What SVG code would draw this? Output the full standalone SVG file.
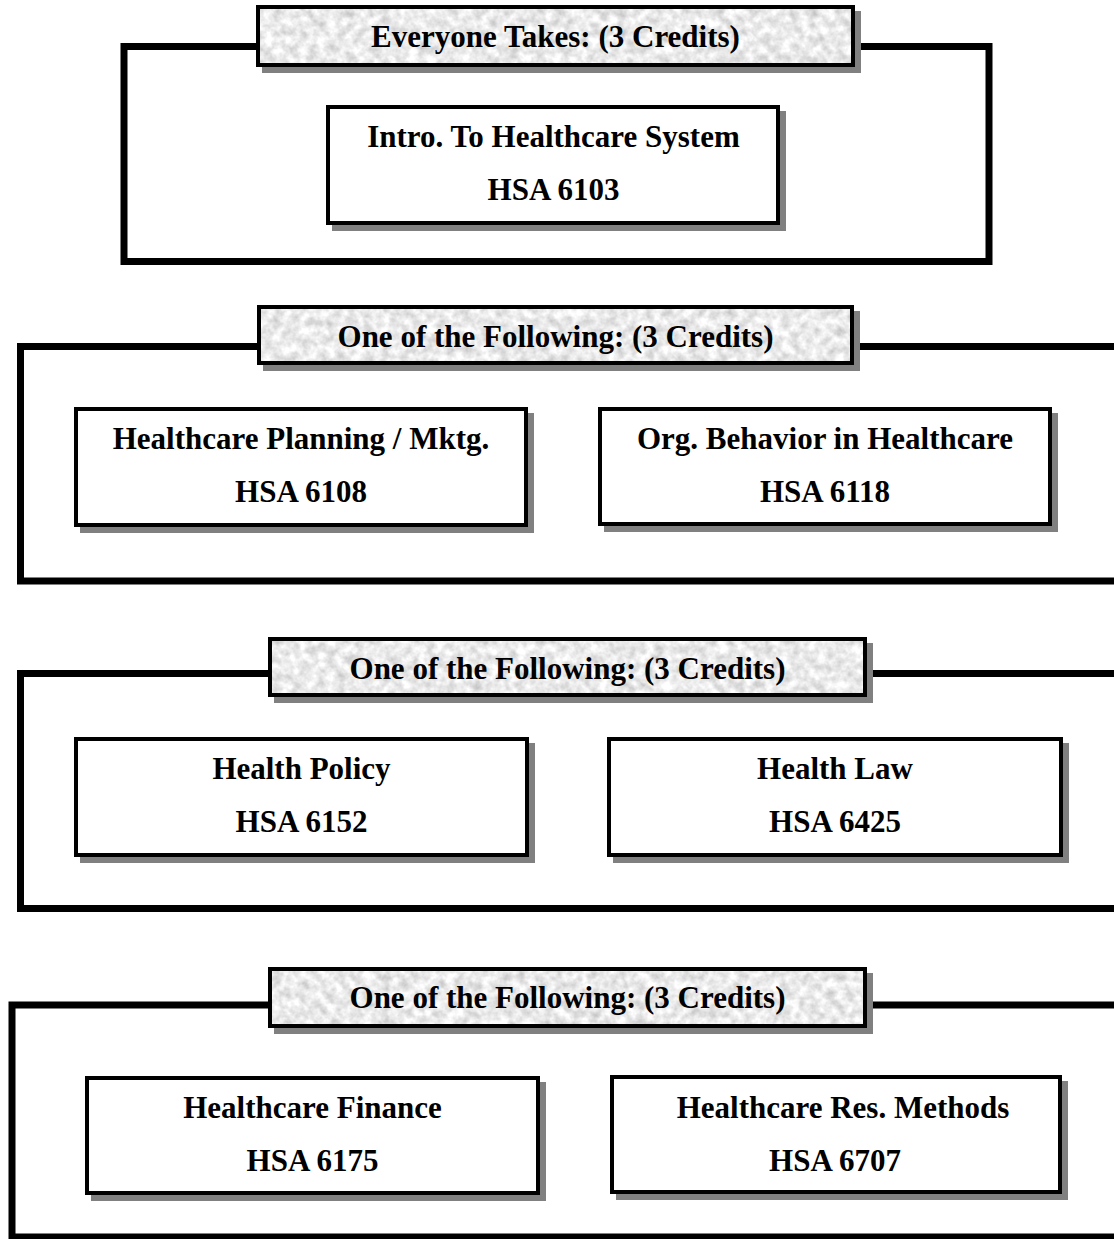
<svg xmlns="http://www.w3.org/2000/svg" width="1114" height="1239" viewBox="0 0 1114 1239">
  <style>
    .frame { fill: none; stroke: #000; stroke-width: 7; }
    .box { fill: #fff; stroke: #000; stroke-width: 4; }
    .hdr { fill: none; stroke: #000; stroke-width: 4; }
    .tex { fill: #ebebeb; filter: url(#granite); }
    .shadow { fill: #808080; }
    .t { font-family: "Liberation Serif", "Times New Roman", serif; font-weight: bold; font-size: 31px; text-anchor: middle; fill: #000; }
  </style>
  <defs>
    <filter id="granite" x="0" y="0" width="1" height="1" filterUnits="objectBoundingBox" color-interpolation-filters="sRGB">
      <feTurbulence type="fractalNoise" baseFrequency="0.11" numOctaves="3" seed="7" result="n"/>
      <feColorMatrix in="n" type="matrix" values="0.36 0 0 0 0.74  0.36 0 0 0 0.74  0.36 0 0 0 0.74  0 0 0 0 1"/>
    </filter>
  </defs>
  <rect width="1114" height="1239" fill="#fff"/>

  <!-- Section 1 -->
  <g id="section1">
    <rect class="frame" x="124" y="46.5" width="865" height="215"/>
    <g id="header1">
      <rect class="shadow" x="262" y="11" width="599" height="62"/>
      <rect class="tex" x="258" y="7" width="595" height="58"/>
      <rect class="hdr" x="258" y="7" width="595" height="58"/>
      <text class="t" x="555.5" y="47">Everyone Takes: (3 Credits)</text>
    </g>
    <g id="hsa6103">
      <rect class="shadow" x="332" y="111" width="454" height="120"/>
      <rect class="box" x="328" y="107" width="450" height="116"/>
      <text class="t" x="553.5" y="147">Intro. To Healthcare System</text>
      <text class="t" x="553.5" y="200">HSA 6103</text>
    </g>
  </g>

  <!-- Section 2 -->
  <g id="section2">
    <rect class="frame" x="20.5" y="346.5" width="1120" height="234.5"/>
    <g id="header2">
      <rect class="shadow" x="263" y="311" width="597" height="60"/>
      <rect class="tex" x="259" y="307" width="593" height="56"/>
      <rect class="hdr" x="259" y="307" width="593" height="56"/>
      <text class="t" x="555.5" y="347">One of the Following: (3 Credits)</text>
    </g>
    <g id="hsa6108">
      <rect class="shadow" x="80" y="413" width="454" height="120"/>
      <rect class="box" x="76" y="409" width="450" height="116"/>
      <text class="t" x="301" y="449">Healthcare Planning / Mktg.</text>
      <text class="t" x="301" y="502">HSA 6108</text>
    </g>
    <g id="hsa6118">
      <rect class="shadow" x="604" y="413" width="454" height="119"/>
      <rect class="box" x="600" y="409" width="450" height="115"/>
      <text class="t" x="825" y="449">Org. Behavior in Healthcare</text>
      <text class="t" x="825" y="502">HSA 6118</text>
    </g>
  </g>

  <!-- Section 3 -->
  <g id="section3">
    <rect class="frame" x="20.5" y="673.5" width="1120" height="235"/>
    <g id="header3">
      <rect class="shadow" x="274" y="643" width="599" height="60"/>
      <rect class="tex" x="270" y="639" width="595" height="56"/>
      <rect class="hdr" x="270" y="639" width="595" height="56"/>
      <text class="t" x="567.5" y="679">One of the Following: (3 Credits)</text>
    </g>
    <g id="hsa6152">
      <rect class="shadow" x="80" y="743" width="455" height="120"/>
      <rect class="box" x="76" y="739" width="451" height="116"/>
      <text class="t" x="301.5" y="779">Health Policy</text>
      <text class="t" x="301.5" y="832">HSA 6152</text>
    </g>
    <g id="hsa6425">
      <rect class="shadow" x="613" y="743" width="456" height="120"/>
      <rect class="box" x="609" y="739" width="452" height="116"/>
      <text class="t" x="835" y="779">Health Law</text>
      <text class="t" x="835" y="832">HSA 6425</text>
    </g>
  </g>

  <!-- Section 4 -->
  <g id="section4">
    <rect class="frame" x="12" y="1005" width="1130" height="232"/>
    <g id="header4">
      <rect class="shadow" x="274" y="973" width="599" height="61"/>
      <rect class="tex" x="270" y="969" width="595" height="57"/>
      <rect class="hdr" x="270" y="969" width="595" height="57"/>
      <text class="t" x="567.5" y="1008">One of the Following: (3 Credits)</text>
    </g>
    <g id="hsa6175">
      <rect class="shadow" x="91" y="1082" width="455" height="119"/>
      <rect class="box" x="87" y="1078" width="451" height="115"/>
      <text class="t" x="312.5" y="1118">Healthcare Finance</text>
      <text class="t" x="312.5" y="1171">HSA 6175</text>
    </g>
    <g id="hsa6707">
      <rect class="shadow" x="616" y="1081" width="452" height="119"/>
      <rect class="box" x="612" y="1077" width="448" height="115"/>
      <text class="t" x="843" y="1118">Healthcare Res. Methods</text>
      <text class="t" x="835" y="1171">HSA 6707</text>
    </g>
  </g>

  <g id="connectors"/>
</svg>
